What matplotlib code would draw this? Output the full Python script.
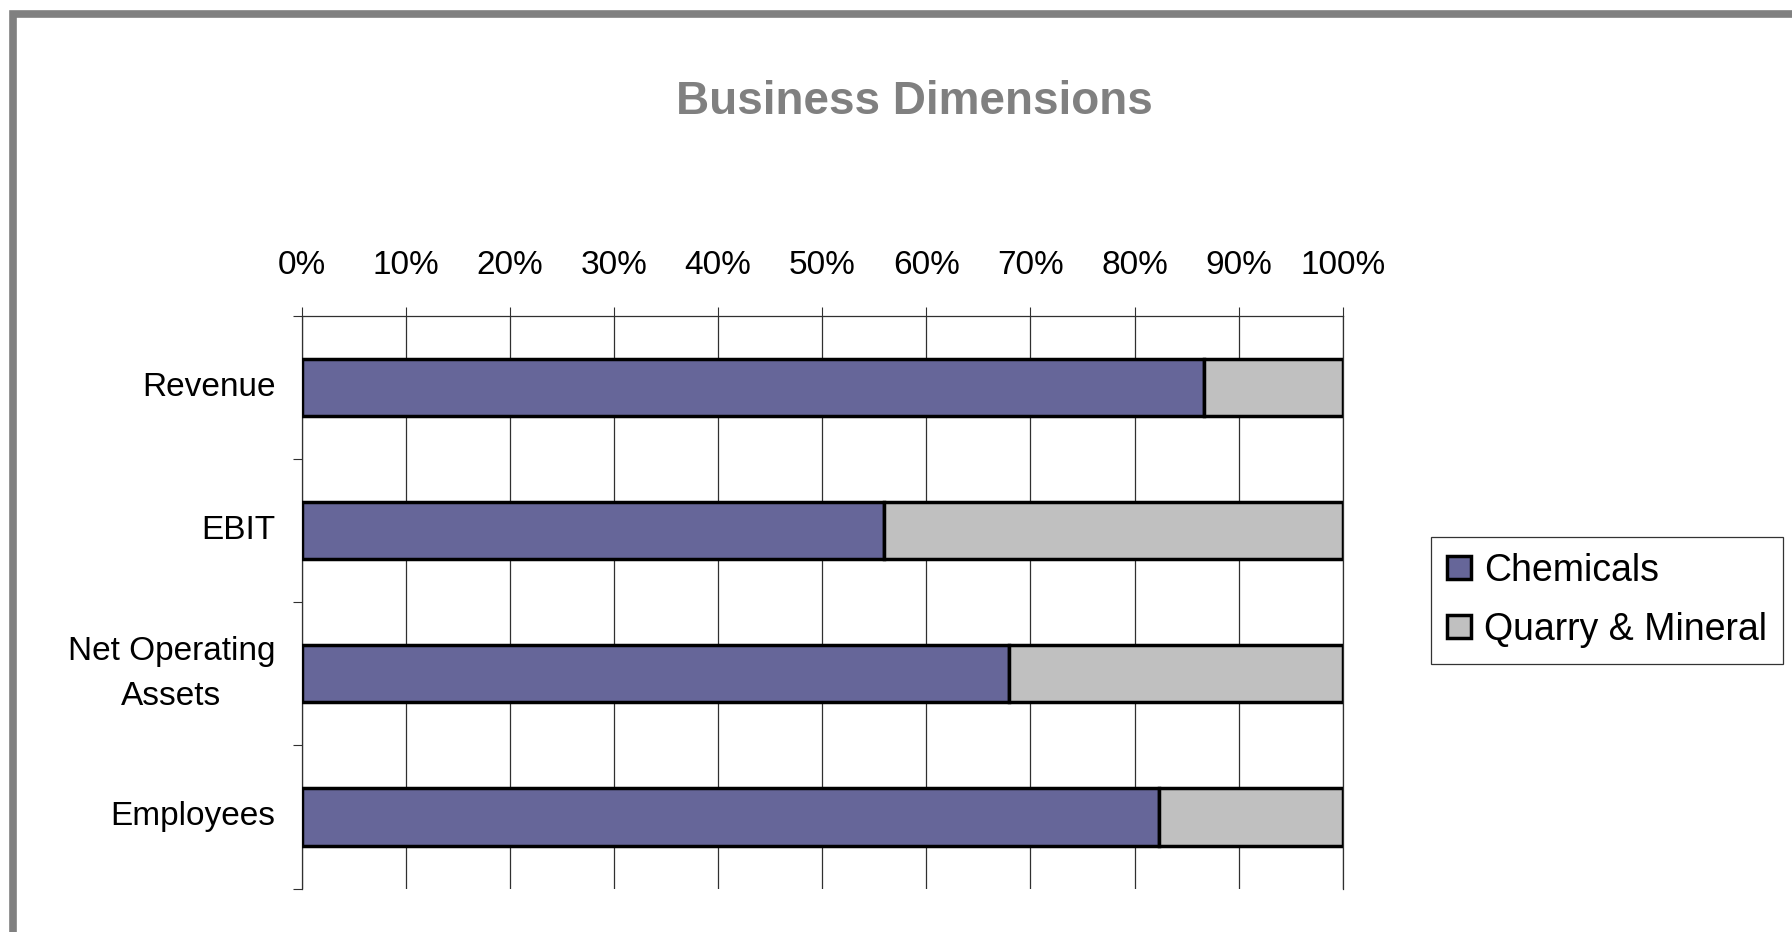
import matplotlib
matplotlib.use("Agg")
import matplotlib.pyplot as plt
from matplotlib.patches import Rectangle
from matplotlib.ticker import FixedLocator, PercentFormatter

plt.rcParams['font.family'] = ['Liberation Sans', 'DejaVu Sans']

# data (share in %)
categories = ['Revenue', 'EBIT', 'Net Operating\nAssets', 'Employees']
chemicals = [86.7, 55.9, 67.9, 82.4]
quarry_mineral = [13.3, 44.1, 32.1, 17.6]
series_names = ['Chemicals', 'Quarry & Mineral']
series_colors = ['#666699', '#C0C0C0']

fig = plt.figure(figsize=(17.92, 9.32), dpi=100)
fig.patch.set_facecolor('white')

# grey outer frame (only top and left edges are inside the picture)
fig.add_artist(Rectangle((13 / 1792, -0.5), 2.0, 1.5 - 14 / 932,
                         transform=fig.transFigure, fill=False,
                         edgecolor='#808080', linewidth=5.5, zorder=0))

ax = fig.add_axes([301.7 / 1792, 1 - 888.5 / 932, 1041 / 1792, 572.5 / 932])

ypos = list(range(len(categories)))
ax.barh(ypos, chemicals, height=0.4, color=series_colors[0],
        edgecolor='black', linewidth=2.5, label=series_names[0], zorder=3)
ax.barh(ypos, quarry_mineral, left=chemicals, height=0.4,
        color=series_colors[1], edgecolor='black', linewidth=2.5,
        label=series_names[1], zorder=3)

ax.set_xlim(0, 100)
ax.set_ylim(len(categories) - 0.5, -0.5)

# x axis on top, like the Excel original
ax.xaxis.tick_top()
ax.set_xticks(range(0, 101, 10))
ax.xaxis.set_major_formatter(PercentFormatter(decimals=0))
ax.tick_params(axis='x', which='major', length=6.5, width=0.8,
               color='#303030', labelsize=24, pad=18.5)
ax.grid(axis='x', color='#303030', linewidth=0.9, zorder=0)

# category labels centred, ticks at category boundaries
ax.set_yticks(ypos)
ax.set_yticklabels(categories, fontsize=24, linespacing=1.6)
for lbl in ax.get_yticklabels():
    lbl.set_horizontalalignment('right')
    lbl.set_verticalalignment('center')
    lbl.set_multialignment('center')
ax.yaxis.set_minor_locator(FixedLocator([i - 0.5 for i in range(len(categories) + 1)]))
ax.tick_params(axis='y', which='major', length=0, pad=19)
ax.tick_params(axis='y', which='minor', length=6.5, width=0.8, color='#303030')

ax.spines['bottom'].set_visible(False)
for side in ['top', 'left', 'right']:
    ax.spines[side].set_color('#303030')
    ax.spines[side].set_linewidth(0.9)

fig.text(914 / 1792, 1 - 102 / 932, 'Business Dimensions', ha='center',
         va='center', fontsize=33, fontweight='bold', color='#808080')

leg = fig.legend(loc='upper left', bbox_to_anchor=(1431 / 1792, 1 - 537 / 932),
                 borderaxespad=0, fontsize=27, frameon=True, fancybox=False,
                 handlelength=0.64, handleheight=0.57, handletextpad=0.35,
                 labelspacing=0.62, borderpad=0.42)
leg.get_frame().set_edgecolor('black')
leg.get_frame().set_linewidth(0.9)

fig.savefig('out.png', dpi=100)
